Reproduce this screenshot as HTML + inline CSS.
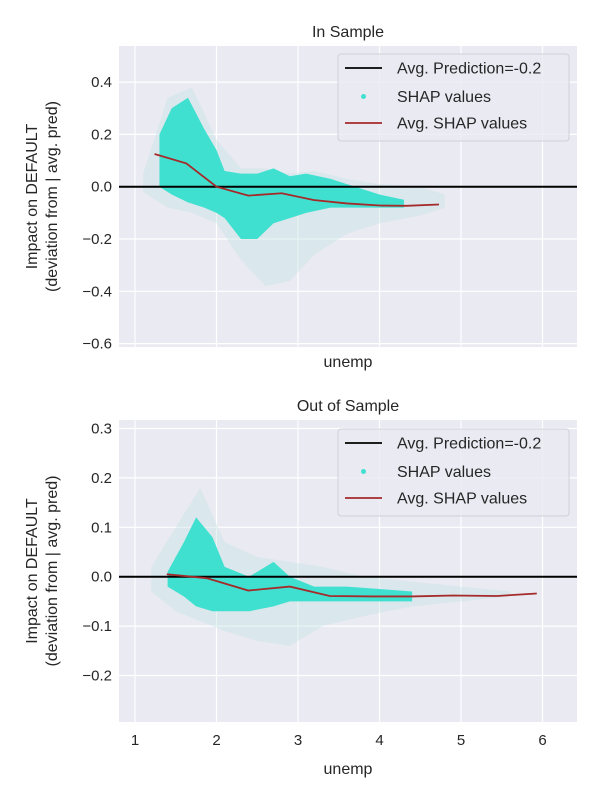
<!DOCTYPE html>
<html><head><meta charset="utf-8"><style>
body{margin:0;background:#fff;}
svg text{font-family:"Liberation Sans","DejaVu Sans",sans-serif;fill:#262626;}
</style></head><body>
<svg id="c" width="600" height="800"></svg>
<script>
const xTicks=[1,2,3,4,5,6];
const topYTicks=[0.4,0.2,0.0,-0.2,-0.4,-0.6];
const topYLabels=["0.4","0.2","0.0","\u22120.2","\u22120.4","\u22120.6"];
const botYTicks=[0.3,0.2,0.1,0.0,-0.1,-0.2];
const botYLabels=["0.3","0.2","0.1","0.0","\u22120.1","\u22120.2"];
const topAvgX=[1.24,1.63,2.0,2.39,2.8,3.19,3.6,4.0,4.33,4.73];
const topAvgY=[0.125,0.089,0.0,-0.034,-0.025,-0.051,-0.064,-0.072,-0.073,-0.068];
const botAvgX=[1.39,1.88,2.39,2.9,3.39,3.92,4.4,4.9,5.44,5.93];
const botAvgY=[0.005,-0.003,-0.028,-0.02,-0.039,-0.04,-0.04,-0.038,-0.039,-0.034];
const topBandX=[1.3,1.45,1.65,1.85,2.0,2.1,2.3,2.5,2.7,2.9,3.1,3.4,3.7,4.0,4.3];
const topBandUp=[0.2,0.3,0.34,0.22,0.14,0.06,0.05,0.05,0.07,0.04,0.05,0.03,0.0,-0.03,-0.05];
const topBandLo=[0.0,-0.03,-0.06,-0.08,-0.1,-0.12,-0.2,-0.2,-0.14,-0.12,-0.1,-0.08,-0.08,-0.08,-0.08];
const topHaloX=[1.1,1.4,1.7,2.0,2.3,2.6,2.9,3.2,3.6,4.0,4.5,4.8];
const topHaloUp=[0.05,0.34,0.38,0.18,0.07,0.07,0.05,0.06,0.03,0.01,0.0,-0.03];
const topHaloLo=[-0.02,-0.08,-0.1,-0.14,-0.28,-0.38,-0.36,-0.26,-0.18,-0.14,-0.11,-0.08];
const botBandX=[1.4,1.6,1.75,1.95,2.1,2.4,2.7,2.9,3.2,3.6,4.0,4.4];
const botBandUp=[0.01,0.07,0.12,0.08,0.02,0.0,0.03,0.0,-0.02,-0.02,-0.025,-0.03];
const botBandLo=[-0.02,-0.04,-0.06,-0.07,-0.07,-0.07,-0.06,-0.05,-0.05,-0.05,-0.05,-0.05];
const botHaloX=[1.2,1.5,1.8,2.1,2.5,2.9,3.3,3.8,4.4,5.0,5.6];
const botHaloUp=[0.02,0.1,0.18,0.07,0.04,0.03,0.02,0.0,-0.01,-0.02,-0.03];
const botHaloLo=[-0.03,-0.07,-0.09,-0.11,-0.13,-0.14,-0.1,-0.08,-0.06,-0.05,-0.04];

const NS="http://www.w3.org/2000/svg";
const svg=document.getElementById('c');
function mk(t,a,p){const e=document.createElementNS(NS,t);for(const k in a)e.setAttribute(k,a[k]);(p||svg).appendChild(e);return e;}
const L=119,R=577;
function sx(v){return 135+(v-1)*81.5;}

function panel(o){
  const g=mk('g',{});
  
  
  const sy=v=>o.y0-v*o.k;
  const bg=mk('rect',{x:L,y:o.top,width:R-L,height:o.bot-o.top,fill:'#eaeaf2'},g);
  
  xTicks.forEach(t=>{const l=mk('line',{x1:sx(t),x2:sx(t),y1:o.top,y2:o.bot,stroke:'#fff','stroke-width':1.2},g);
    
    if(o.xlabels){const tx=mk('text',{x:sx(t),y:o.bot+23,'text-anchor':'middle','font-size':15},g);tx.textContent=t;
      }});
  o.yt.forEach((t,i)=>{const l=mk('line',{x1:L,x2:R,y1:sy(t),y2:sy(t),stroke:'#fff','stroke-width':1.2},g);
    
    const tx=mk('text',{x:L-7,y:sy(t)+5,'text-anchor':'end','font-size':15},g);tx.textContent=o.yl[i];
    });
  function band(xs,up,lo,fill,op,name){
    let pts=xs.map((x,i)=>sx(x)+','+sy(up[i]));
    for(let i=xs.length-1;i>=0;i--)pts.push(sx(xs[i])+','+sy(lo[i]));
    const p=mk('polygon',{points:pts.join(' '),fill:fill,opacity:op},g);
    }
  band(o.hx,o.hu,o.hl,'#c4e4e3',0.4,'shap-scatter-halo');
  band(o.bx,o.bu,o.bl,'#40e0d0',1,'shap-scatter');
  const z=mk('line',{x1:L,x2:R,y1:sy(0),y2:sy(0),stroke:'#000','stroke-width':2},g);
  
  const pl=mk('polyline',{points:o.ax.map((x,i)=>sx(x)+','+sy(o.ay[i])).join(' '),fill:'none',stroke:'#a52a2a','stroke-width':1.8},g);
  
  const tt=mk('text',{x:(L+R)/2,y:o.top-9,'text-anchor':'middle','font-size':16},g);tt.textContent=o.title;
  
  const xl=mk('text',{x:(L+R)/2,y:o.xly,'text-anchor':'middle','font-size':16},g);xl.textContent='unemp';
  
  const cy=(o.top+o.bot)/2;
  const yl=mk('text',{x:0,y:0,'text-anchor':'middle','font-size':16,transform:`translate(37,${cy}) rotate(-90)`},g);yl.textContent='Impact on DEFAULT';
  
  const yl2=mk('text',{x:0,y:0,'text-anchor':'middle','font-size':16,transform:`translate(57,${cy}) rotate(-90)`},g);yl2.textContent='(deviation from | avg. pred)';
  
  const lg=mk('g',{},g);
  const T=o.lt;
  mk('rect',{x:338,y:T,width:231,height:87,rx:3,fill:'#eaeaf2','fill-opacity':0.8,stroke:'#d0d0d8'},lg);
  const rows=[T+14,T+42.5,T+69];
  mk('line',{x1:345,x2:382,y1:rows[0],y2:rows[0],stroke:'#000','stroke-width':1.8},lg);
  mk('circle',{cx:363.5,cy:rows[1],r:2.5,fill:'#40e0d0'},lg);
  mk('line',{x1:345,x2:382,y1:rows[2],y2:rows[2],stroke:'#a52a2a','stroke-width':1.8},lg);
  ['Avg. Prediction=-0.2','SHAP values','Avg. SHAP values'].forEach((s,i)=>{
    const t=mk('text',{x:397,y:rows[i]+5.5,'font-size':16},lg);t.textContent=s;
    });
}
panel({name:'in-sample-panel',title:'In Sample',top:46,bot:347,y0:186.7,k:261.5,yt:topYTicks,yl:topYLabels,xlabels:false,xly:367,
  ax:topAvgX,ay:topAvgY,bx:topBandX,bu:topBandUp,bl:topBandLo,hx:topHaloX,hu:topHaloUp,hl:topHaloLo,lt:54});
panel({name:'out-of-sample-panel',title:'Out of Sample',top:420,bot:722,y0:576.7,k:494,yt:botYTicks,yl:botYLabels,xlabels:true,xly:774,
  ax:botAvgX,ay:botAvgY,bx:botBandX,bu:botBandUp,bl:botBandLo,hx:botHaloX,hu:botHaloUp,hl:botHaloLo,lt:429});
</script>
</body></html>
